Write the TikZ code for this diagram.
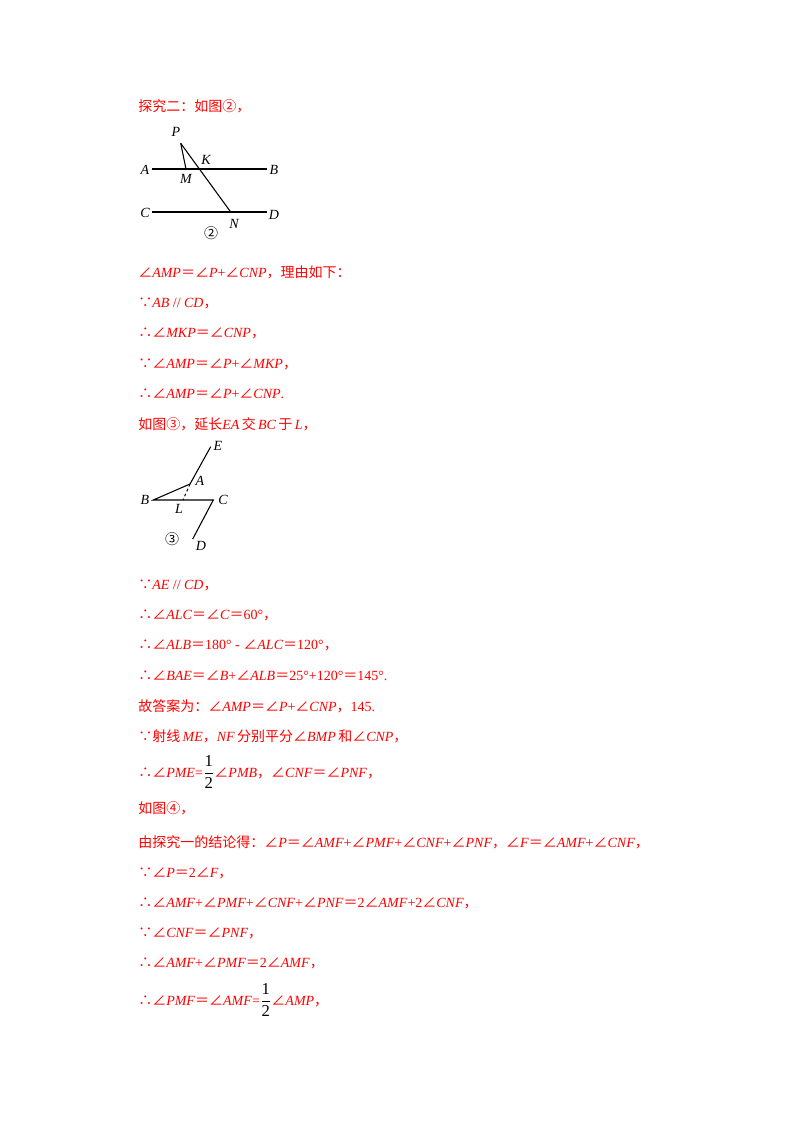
\documentclass[tikz,border=0pt]{standalone}
\usepackage{amsmath}
\usepackage{fontspec}
\setmainfont{Liberation Serif}
\newfontfamily\cjk{Noto Sans CJK SC}
\newcommand\zh[1]{{\cjk #1}}
\newcommand\an{\zh{∠}}
\newcommand\eq{\zh{＝}}
\newcommand\I[1]{\textit{#1}}
\newcommand\half{{\color{black}\fontsize{12.5}{14}\selectfont$\dfrac{\text{1}}{\text{2}}$}}
\begin{document}
\begin{tikzpicture}[x=0.75pt,y=-0.75pt,
  txt/.style={anchor=west,inner sep=0pt,text=red,font=\fontsize{10.5}{12}\selectfont},
  lbl/.style={inner sep=0pt,font=\fontsize{10.5}{12}\selectfont\itshape},
  geo/.style={line width=0.8pt}]
\useasboundingbox (0,0) rectangle (800,1132);
% figure 2
\coordinate (P) at (180.7,143.3);
\coordinate (A) at (151.7,169); \coordinate (B) at (266.7,169);
\coordinate (M) at (186,169);
\coordinate (C) at (152,212); \coordinate (D) at (267,212);
\coordinate (N) at (230.7,212);
\draw[geo] (A) -- (B); \draw[geo] (C) -- (D);
\draw[geo] (P) -- (N); \draw[geo] (P) -- (M);
\node[lbl] (lP) at (176,132) {P};
\node[lbl] (lA) at (145,170) {A};
\node[lbl] (lB) at (274,170) {B};
\node[lbl] (lK) at (206,160) {K};
\node[lbl] (lM) at (186,179) {M};
\node[lbl] (lC) at (145,213) {C};
\node[lbl] (lD) at (274,215) {D};
\node[lbl] (lN) at (234,224) {N};
\node[inner sep=0pt,font=\fontsize{10.5}{12}\selectfont] (c2) at (211,233) {\zh{②}};
% figure 3
\coordinate (E) at (210.7,446.7); \coordinate (A3) at (190,484);
\coordinate (B3) at (153.3,500); \coordinate (C3) at (213.3,500);
\coordinate (D3) at (192.7,539); \coordinate (L3) at (183,500);
\draw[geo] (E) -- (A3) -- (B3) -- (C3) -- (D3);
\draw[geo,dash pattern=on 2pt off 2pt] (A3) -- (L3);
\node[lbl] (lE) at (218,446) {E};
\node[lbl] (lA3) at (200,481) {A};
\node[lbl] (lB3) at (145,500) {B};
\node[lbl] (lC3) at (223,500) {C};
\node[lbl] (lL3) at (179,509) {L};
\node[lbl] (lD3) at (201,546) {D};
\node[inner sep=0pt,font=\fontsize{10.5}{12}\selectfont] (c3) at (172,539) {\zh{③}};
% text
\node[txt] (t0) at (138,106) {\zh{探究二：如图②，}};
\node[txt] (t1) at (138,272) {\an\I{AMP}\eq\an\I{P}+\an\I{CNP}\zh{，理由如下：}};
\node[txt] (t2) at (138,303) {\zh{∵}\I{AB} // \I{CD}\zh{，}};
\node[txt] (t3) at (138,333) {\zh{∴}\an\I{MKP}\eq\an\I{CNP}\zh{，}};
\node[txt] (t4) at (138,364) {\zh{∵}\an\I{AMP}\eq\an\I{P}+\an\I{MKP}\zh{，}};
\node[txt] (t5) at (138,394) {\zh{∴}\an\I{AMP}\eq\an\I{P}+\an\I{CNP}.};
\node[txt] (t6) at (138,424) {\zh{如图③，延长}\I{EA}\,\zh{交}\,\I{BC}\,\zh{于}\,\I{L}\zh{，}};
\node[txt] (t7) at (138,585) {\zh{∵}\I{AE} // \I{CD}\zh{，}};
\node[txt] (t8) at (138,615) {\zh{∴}\an\I{ALC}\eq\an\I{C}\eq60°\zh{，}};
\node[txt] (t9) at (138,645) {\zh{∴}\an\I{ALB}\eq180° - \an\I{ALC}\eq120°\zh{，}};
\node[txt] (t10) at (138,676) {\zh{∴}\an\I{BAE}\eq\an\I{B}+\an\I{ALB}\eq25°+120°\eq145°.};
\node[txt] (t11) at (138,706) {\zh{故答案为：}\an\I{AMP}\eq\an\I{P}+\an\I{CNP}\zh{，}145.};
\node[txt] (t12) at (138,736) {\zh{∵射线}\,\I{ME}\zh{，}\I{NF}\,\zh{分别平分}\an\I{BMP}\,\zh{和}\an\I{CNP}\zh{，}};
\node[txt] (t13) at (138,772) {\zh{∴}\an\I{PME}=\half\an\I{PMB}\zh{，}\an\I{CNF}\eq\an\I{PNF}\zh{，}};
\node[txt] (t14) at (138,808) {\zh{如图④，}};
\node[txt] (t15) at (138,842) {\zh{由探究一的结论得：}\an\I{P}\eq\an\I{AMF}+\an\I{PMF}+\an\I{CNF}+\an\I{PNF}\zh{，}\an\I{F}\eq\an\I{AMF}+\an\I{CNF}\zh{，}};
\node[txt] (t16) at (138,873) {\zh{∵}\an\I{P}\eq2\an\I{F}\zh{，}};
\node[txt] (t17) at (138,903) {\zh{∴}\an\I{AMF}+\an\I{PMF}+\an\I{CNF}+\an\I{PNF}\eq2\an\I{AMF}+2\an\I{CNF}\zh{，}};
\node[txt] (t18) at (138,933) {\zh{∵}\an\I{CNF}\eq\an\I{PNF}\zh{，}};
\node[txt] (t19) at (138,963) {\zh{∴}\an\I{AMF}+\an\I{PMF}\eq2\an\I{AMF}\zh{，}};
\node[txt] (t20) at (138,1000) {\zh{∴}\an\I{PMF}\eq\an\I{AMF}=\half\an\I{AMP}\zh{，}};
\end{tikzpicture}
\end{document}
